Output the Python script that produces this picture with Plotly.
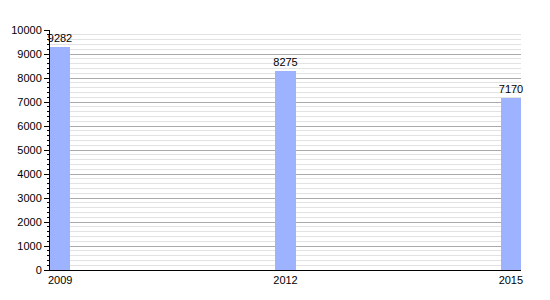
import plotly.graph_objects as go

years = [2009, 2012, 2015]
values = [9282, 8275, 7170]
year_labels = ["2009", "2012", "2015"]

bar_w = 0.27

fig = go.Figure()
fig.add_trace(go.Bar(
    x=years, y=values, width=[bar_w]*3, offset=0,
    marker=dict(color="#9db3ff", line=dict(width=0)),
    text=[str(v) for v in values], textposition="outside",
    constraintext="none",
    textfont=dict(family="Liberation Sans, Arial", size=11, color="black"),
    cliponaxis=False,
))
fig.update_layout(
    width=550, height=300,
    margin=dict(l=50, r=29, t=30, b=30),
    paper_bgcolor="white", plot_bgcolor="white",
    showlegend=False,
    font=dict(family="Liberation Sans, Arial", size=11, color="black"),
    xaxis=dict(
        range=[2009, 2015 + bar_w],
        tickvals=[y + bar_w/2 for y in years], ticktext=year_labels,
        showgrid=False, zeroline=False, showline=True, linecolor="black", linewidth=1,
        ticks="", ticklen=0,
    ),
    yaxis=dict(
        range=[0, 10000], dtick=1000, tick0=0, tickformat="d",
        showgrid=True, gridcolor="#aaaaaa", gridwidth=1,
        zeroline=False, showline=True, linecolor="black", linewidth=1,
        ticks="outside", ticklen=5, tickcolor="black",
        minor=dict(dtick=200, showgrid=True, gridcolor="#e2e2e2", gridwidth=1,
                   ticks="outside", ticklen=2, tickcolor="black"),
    ),
    bargap=0,
)
fig.write_html("out.html")
